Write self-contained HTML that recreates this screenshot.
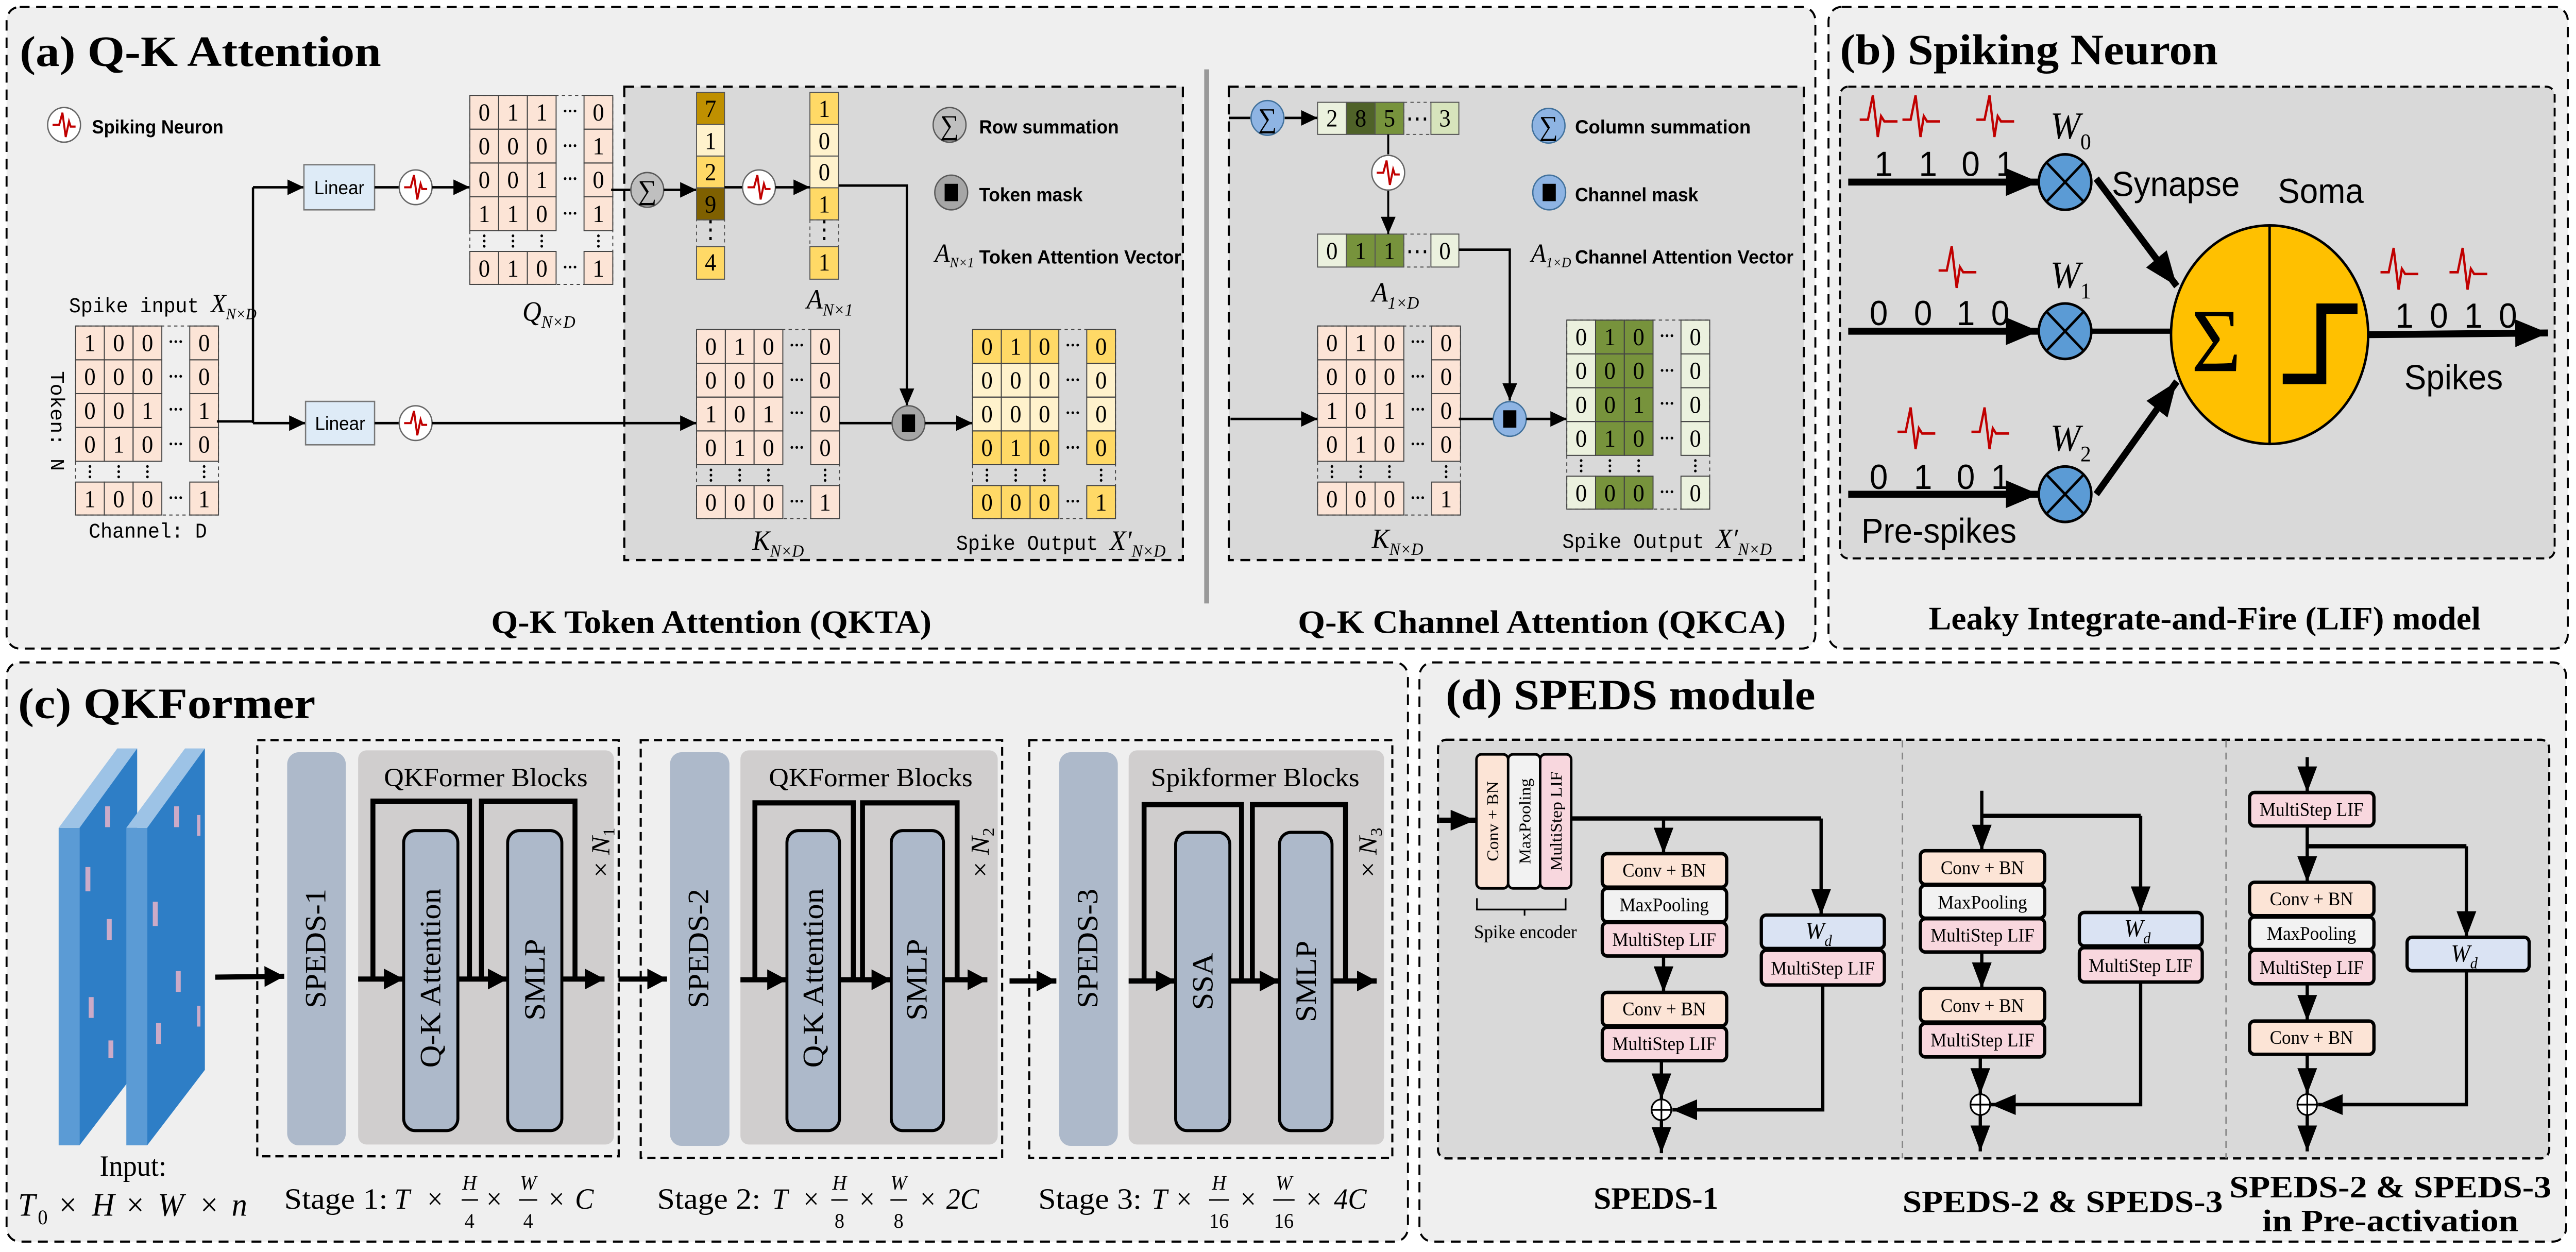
<!DOCTYPE html>
<html><head><meta charset="utf-8"><style>html,body{margin:0;padding:0;background:#fff;width:100%;height:100%;overflow:hidden}svg{display:block;width:100vw;height:100vh;position:fixed;left:0;top:0}</style></head><body>
<svg xmlns="http://www.w3.org/2000/svg" xmlns:xlink="http://www.w3.org/1999/xlink" viewBox="0 0 1568 722" preserveAspectRatio="none">
<defs>
<marker id="a1" markerWidth="10" markerHeight="9" refX="10" refY="4.5" orient="auto" markerUnits="userSpaceOnUse"><path d="M0,0 L10,4.5 L0,9z" fill="#000"/></marker>
<marker id="a2" markerWidth="20" markerHeight="16" refX="20" refY="8" orient="auto" markerUnits="userSpaceOnUse"><path d="M0,0 L20,8 L0,16z" fill="#000"/></marker>
<marker id="a3" markerWidth="12" markerHeight="12" refX="12" refY="6" orient="auto" markerUnits="userSpaceOnUse"><path d="M0,0 L12,6 L0,12z" fill="#000"/></marker>
<marker id="a4" markerWidth="15" markerHeight="12" refX="15" refY="6" orient="auto" markerUnits="userSpaceOnUse"><path d="M0,0 L15,6 L0,12z" fill="#000"/></marker>
<g id="neu"><circle cx="0" cy="0" r="10" fill="#fff" stroke="#666" stroke-width="0.8"/><path d="M-7,0 H-3 L-1,-7 L1,7 L3,-2 L4,1 H7" fill="none" stroke="#c00000" stroke-width="1.2"/></g>
<path id="spk" d="M0,14 h5 l3,-14 l3,24 l2,-12 l2,3 h8" fill="none" stroke="#c00000" stroke-width="1.4"/>
<g id="mgF" fill="#fce4d6"><rect x="0" y="0" width="52.5" height="78"/><rect x="69.5" y="0" width="17.5" height="78"/><rect x="0" y="90" width="52.5" height="19"/><rect x="69.5" y="90" width="17.5" height="19"/></g>
<g id="mgL" fill="none" stroke="#444" stroke-width="0.6">
<rect x="0" y="0" width="87" height="109" stroke-dasharray="2,2"/>
<rect x="0" y="0" width="17.5" height="19.5"/><rect x="17.5" y="0" width="17.5" height="19.5"/><rect x="35" y="0" width="17.5" height="19.5"/><rect x="69.5" y="0" width="17.5" height="19.5"/>
<rect x="0" y="19.5" width="17.5" height="19.5"/><rect x="17.5" y="19.5" width="17.5" height="19.5"/><rect x="35" y="19.5" width="17.5" height="19.5"/><rect x="69.5" y="19.5" width="17.5" height="19.5"/>
<rect x="0" y="39" width="17.5" height="19.5"/><rect x="17.5" y="39" width="17.5" height="19.5"/><rect x="35" y="39" width="17.5" height="19.5"/><rect x="69.5" y="39" width="17.5" height="19.5"/>
<rect x="0" y="58.5" width="17.5" height="19.5"/><rect x="17.5" y="58.5" width="17.5" height="19.5"/><rect x="35" y="58.5" width="17.5" height="19.5"/><rect x="69.5" y="58.5" width="17.5" height="19.5"/>
<rect x="0" y="90" width="17.5" height="19"/><rect x="17.5" y="90" width="17.5" height="19"/><rect x="35" y="90" width="17.5" height="19"/><rect x="69.5" y="90" width="17.5" height="19"/>
<g fill="#000" stroke="none"><circle cx="58" cy="9" r="0.8"/><circle cx="61" cy="9" r="0.8"/><circle cx="64" cy="9" r="0.8"/><circle cx="58" cy="29" r="0.8"/><circle cx="61" cy="29" r="0.8"/><circle cx="64" cy="29" r="0.8"/><circle cx="58" cy="48" r="0.8"/><circle cx="61" cy="48" r="0.8"/><circle cx="64" cy="48" r="0.8"/><circle cx="58" cy="68" r="0.8"/><circle cx="61" cy="68" r="0.8"/><circle cx="64" cy="68" r="0.8"/><circle cx="58" cy="99" r="0.8"/><circle cx="61" cy="99" r="0.8"/><circle cx="64" cy="99" r="0.8"/>
<circle cx="8.75" cy="81" r="0.8"/><circle cx="8.75" cy="84" r="0.8"/><circle cx="8.75" cy="87" r="0.8"/><circle cx="26.25" cy="81" r="0.8"/><circle cx="26.25" cy="84" r="0.8"/><circle cx="26.25" cy="87" r="0.8"/><circle cx="43.75" cy="81" r="0.8"/><circle cx="43.75" cy="84" r="0.8"/><circle cx="43.75" cy="87" r="0.8"/><circle cx="78.25" cy="81" r="0.8"/><circle cx="78.25" cy="84" r="0.8"/><circle cx="78.25" cy="87" r="0.8"/></g>
</g>
</defs>
<style>
.d{font-family:"Liberation Serif",serif;font-size:14px;text-anchor:middle}
.ttl{font-family:"Liberation Serif",serif;font-weight:bold}
.lg{font-family:"Liberation Sans",sans-serif;font-weight:bold;font-size:11px}
.bx{stroke:#000;stroke-width:2}
.bt{font-family:"Liberation Serif",serif;font-size:11px;text-anchor:middle}
.ln{stroke:#000;fill:none}
</style>

<rect x="4" y="4" width="1101" height="370" rx="8" fill="#efefef" stroke="#000" stroke-width="1.2" stroke-dasharray="6,4"/>
<rect x="1113" y="4" width="450" height="370" rx="8" fill="#efefef" stroke="#000" stroke-width="1.2" stroke-dasharray="6,4"/>
<rect x="4" y="382" width="853" height="334" rx="8" fill="#efefef" stroke="#000" stroke-width="1.2" stroke-dasharray="6,4"/>
<rect x="864" y="382" width="698" height="334" rx="8" fill="#efefef" stroke="#000" stroke-width="1.2" stroke-dasharray="6,4"/>

<!-- ===== Panel (a) ===== -->
<text class="ttl" x="12" y="38" font-size="25" textLength="220" lengthAdjust="spacingAndGlyphs">(a)  Q-K Attention</text>
<use xlink:href="#neu" x="39" y="72"/>
<text class="lg" x="56" y="77" textLength="80" lengthAdjust="spacingAndGlyphs">Spiking Neuron</text>

<rect x="380" y="50" width="340" height="273" fill="#d9d9d9" stroke="#000" stroke-width="1.3" stroke-dasharray="6,4"/>
<rect x="748" y="50" width="350" height="273" fill="#d9d9d9" stroke="#000" stroke-width="1.3" stroke-dasharray="6,4"/>
<rect x="733" y="40" width="3" height="308" fill="#999"/>

<text x="42" y="180" font-family="Liberation Mono,monospace" font-size="12">Spike input <tspan font-family="Liberation Serif,serif" font-style="italic" font-size="15">X</tspan><tspan font-family="Liberation Serif,serif" font-style="italic" font-size="9" dy="4">N×D</tspan></text>
<g transform="translate(46,188)"><use xlink:href="#mgF"/><use xlink:href="#mgL"/>
<text class="d" x="8.75 26.25 43.75 78.25" y="14.5">1000</text><text class="d" x="8.75 26.25 43.75 78.25" y="34">0000</text><text class="d" x="8.75 26.25 43.75 78.25" y="53.5">0011</text><text class="d" x="8.75 26.25 43.75 78.25" y="73">0100</text><text class="d" x="8.75 26.25 43.75 78.25" y="104.5">1001</text></g>
<text x="31" y="214" font-family="Liberation Mono,monospace" font-size="12" transform="rotate(90 31 214)">Token: N</text>
<text x="54" y="310" font-family="Liberation Mono,monospace" font-size="12">Channel: D</text>

<path class="ln" stroke-width="1.4" d="M132,243 H154 M154,108 V244"/>
<line class="ln" stroke-width="1.4" x1="154" y1="108" x2="185" y2="108" marker-end="url(#a1)"/>
<line class="ln" stroke-width="1.4" x1="154" y1="244" x2="186" y2="244" marker-end="url(#a1)"/>
<rect x="185" y="95" width="43" height="26" fill="#deebf7" stroke="#777" stroke-width="0.8"/>
<text x="206.5" y="112" font-family="Liberation Sans,sans-serif" font-size="11" text-anchor="middle">Linear</text>
<rect x="186" y="231.5" width="42" height="25" fill="#deebf7" stroke="#777" stroke-width="0.8"/>
<text x="207" y="248" font-family="Liberation Sans,sans-serif" font-size="11" text-anchor="middle">Linear</text>
<line class="ln" stroke-width="1.4" x1="228" y1="108" x2="243" y2="108"/>
<line class="ln" stroke-width="1.4" x1="228" y1="244" x2="243" y2="244"/>
<use xlink:href="#neu" x="253" y="108"/><use xlink:href="#neu" x="253" y="244"/>
<line class="ln" stroke-width="1.4" x1="263" y1="108" x2="286" y2="108" marker-end="url(#a1)"/>
<line class="ln" stroke-width="1.4" x1="263" y1="244" x2="424" y2="244" marker-end="url(#a1)"/>

<g transform="translate(286,55)"><use xlink:href="#mgF"/><use xlink:href="#mgL"/>
<text class="d" x="8.75 26.25 43.75 78.25" y="14.5">0110</text><text class="d" x="8.75 26.25 43.75 78.25" y="34">0001</text><text class="d" x="8.75 26.25 43.75 78.25" y="53.5">0010</text><text class="d" x="8.75 26.25 43.75 78.25" y="73">1101</text><text class="d" x="8.75 26.25 43.75 78.25" y="104.5">0101</text></g>
<text x="318" y="185" font-family="Liberation Serif,serif" font-style="italic" font-size="16">Q<tspan font-size="10" dy="4">N×D</tspan></text>

<line class="ln" stroke-width="1.4" x1="372" y1="109.5" x2="384" y2="109.5"/>
<circle cx="394" cy="109.5" r="10" fill="#bfbfbf" stroke="#595959" stroke-width="0.8"/>
<text x="394" y="115" font-family="Liberation Serif,serif" font-size="16" text-anchor="middle">∑</text>
<line class="ln" stroke-width="1.4" x1="404" y1="109.5" x2="424" y2="109.5" marker-end="url(#a1)"/>
<g stroke="#555" stroke-width="0.6">
<rect x="424" y="53.3" width="17" height="18.5" fill="#bf9000"/><rect x="424" y="71.8" width="17" height="18.2" fill="#fff2cc"/><rect x="424" y="90" width="17" height="18.3" fill="#ffd966"/><rect x="424" y="108.3" width="17" height="18.5" fill="#7f6000"/><rect x="424" y="126.8" width="17" height="15.4" fill="none" stroke-dasharray="2,2"/><rect x="424" y="142.2" width="17" height="18.8" fill="#ffd966"/>
<rect x="493" y="53.3" width="17.5" height="18.5" fill="#ffd966"/><rect x="493" y="71.8" width="17.5" height="18.2" fill="#fff2cc"/><rect x="493" y="90" width="17.5" height="18.3" fill="#fff2cc"/><rect x="493" y="108.3" width="17.5" height="18.5" fill="#ffd966"/><rect x="493" y="126.8" width="17.5" height="15.4" fill="none" stroke-dasharray="2,2"/><rect x="493" y="142.2" width="17.5" height="18.8" fill="#ffd966"/>
</g>
<text class="d" x="432.5" y="67.5">7</text><text class="d" x="432.5" y="86">1</text><text class="d" x="432.5" y="104">2</text><text class="d" x="432.5" y="122.5">9</text><text class="d" x="432.5" y="137">⋮</text><text class="d" x="432.5" y="156">4</text>
<text class="d" x="501.75" y="67.5">1</text><text class="d" x="501.75" y="86">0</text><text class="d" x="501.75" y="104">0</text><text class="d" x="501.75" y="122.5">1</text><text class="d" x="501.75" y="137">⋮</text><text class="d" x="501.75" y="156">1</text>
<line class="ln" stroke-width="1.4" x1="441" y1="108" x2="452" y2="108"/>
<use xlink:href="#neu" x="462" y="108"/>
<line class="ln" stroke-width="1.4" x1="472" y1="108" x2="493" y2="108" marker-end="url(#a1)"/>
<text x="491" y="178" font-family="Liberation Serif,serif" font-style="italic" font-size="16">A<tspan font-size="10" dy="4">N×1</tspan></text>
<path class="ln" stroke-width="1.4" d="M510.5,107 H552 V234" marker-end="url(#a1)"/>

<g transform="translate(424,190)"><use xlink:href="#mgF"/><use xlink:href="#mgL"/>
<text class="d" x="8.75 26.25 43.75 78.25" y="14.5">0100</text><text class="d" x="8.75 26.25 43.75 78.25" y="34">0000</text><text class="d" x="8.75 26.25 43.75 78.25" y="53.5">1010</text><text class="d" x="8.75 26.25 43.75 78.25" y="73">0100</text><text class="d" x="8.75 26.25 43.75 78.25" y="104.5">0001</text></g>
<text x="458" y="317" font-family="Liberation Serif,serif" font-style="italic" font-size="16">K<tspan font-size="10" dy="4">N×D</tspan></text>
<line class="ln" stroke-width="1.4" x1="511" y1="244" x2="543" y2="244"/>
<circle cx="553" cy="244" r="10" fill="#a6a6a6" stroke="#595959" stroke-width="0.8"/><rect x="549" y="239" width="8" height="10" fill="#000"/>
<line class="ln" stroke-width="1.4" x1="563" y1="244" x2="592" y2="244" marker-end="url(#a1)"/>
<g transform="translate(592,190)">
<g fill="#ffd966"><rect x="0" y="0" width="52.5" height="19.5"/><rect x="69.5" y="0" width="17.5" height="19.5"/><rect x="0" y="58.5" width="52.5" height="19.5"/><rect x="69.5" y="58.5" width="17.5" height="19.5"/><rect x="0" y="90" width="52.5" height="19"/><rect x="69.5" y="90" width="17.5" height="19"/></g>
<g fill="#fff2cc"><rect x="0" y="19.5" width="52.5" height="39"/><rect x="69.5" y="19.5" width="17.5" height="39"/></g>
<use xlink:href="#mgL"/>
<text class="d" x="8.75 26.25 43.75 78.25" y="14.5">0100</text><text class="d" x="8.75 26.25 43.75 78.25" y="34">0000</text><text class="d" x="8.75 26.25 43.75 78.25" y="53.5">0000</text><text class="d" x="8.75 26.25 43.75 78.25" y="73">0100</text><text class="d" x="8.75 26.25 43.75 78.25" y="104.5">0001</text></g>
<text x="582" y="317" font-family="Liberation Mono,monospace" font-size="12">Spike Output <tspan font-family="Liberation Serif,serif" font-style="italic" font-size="16">X′</tspan><tspan font-family="Liberation Serif,serif" font-style="italic" font-size="10" dy="4">N×D</tspan></text>

<circle cx="578" cy="72" r="10" fill="#bfbfbf" stroke="#595959" stroke-width="0.8"/><text x="578" y="77.5" font-family="Liberation Serif,serif" font-size="16" text-anchor="middle">∑</text>
<text class="lg" x="596" y="77" textLength="85" lengthAdjust="spacingAndGlyphs">Row summation</text>
<circle cx="579" cy="111" r="10" fill="#a6a6a6" stroke="#595959" stroke-width="0.8"/><rect x="575" y="106" width="8" height="10" fill="#000"/>
<text class="lg" x="596" y="116" textLength="63" lengthAdjust="spacingAndGlyphs">Token mask</text>
<text x="569" y="151" font-family="Liberation Serif,serif" font-style="italic" font-size="15">A<tspan font-size="8" dy="3">N×1</tspan></text>
<text class="lg" x="596" y="152" textLength="123" lengthAdjust="spacingAndGlyphs">Token Attention Vector</text>

<line class="ln" stroke-width="1.4" x1="748" y1="68" x2="761" y2="68"/>
<circle cx="771.5" cy="68" r="10" fill="#8eb4e3" stroke="#41719c" stroke-width="0.8"/><text x="771.5" y="73.5" font-family="Liberation Serif,serif" font-size="16" text-anchor="middle">∑</text>
<line class="ln" stroke-width="1.4" x1="782" y1="68" x2="802" y2="68" marker-end="url(#a1)"/>
<g stroke="#555" stroke-width="0.6">
<rect x="802" y="59" width="17.5" height="18.5" fill="#ebf1de"/><rect x="819.5" y="59" width="17.5" height="18.5" fill="#4f6228"/><rect x="837" y="59" width="17.5" height="18.5" fill="#77933c"/><rect x="854.5" y="59" width="16.5" height="18.5" fill="none" stroke-dasharray="2,2"/><rect x="871" y="59" width="17" height="18.5" fill="#d7e4bc"/>
<rect x="802" y="135" width="17.5" height="19" fill="#ebf1de"/><rect x="819.5" y="135" width="17.5" height="19" fill="#77933c"/><rect x="837" y="135" width="17.5" height="19" fill="#77933c"/><rect x="854.5" y="135" width="16.5" height="19" fill="none" stroke-dasharray="2,2"/><rect x="871" y="135" width="17" height="19" fill="#ebf1de"/>
</g>
<text class="d" x="810.75 828.25 845.75 862.75 879.5" y="73">285⋯3</text>
<text class="d" x="810.75 828.25 845.75 862.75 879.5" y="149.5">011⋯0</text>
<line class="ln" stroke-width="1.2" x1="845" y1="77.5" x2="845" y2="89"/>
<use xlink:href="#neu" x="845" y="99.6"/>
<line class="ln" stroke-width="1.2" x1="845" y1="110" x2="845" y2="135" marker-end="url(#a1)"/>
<text x="835" y="174" font-family="Liberation Serif,serif" font-style="italic" font-size="16">A<tspan font-size="10" dy="4">1×D</tspan></text>
<path class="ln" stroke-width="1.4" d="M888,144 H919 V231" marker-end="url(#a1)"/>
<line class="ln" stroke-width="1.4" x1="749" y1="241.6" x2="802" y2="241.6" marker-end="url(#a1)"/>
<g transform="translate(802,188)"><use xlink:href="#mgF"/><use xlink:href="#mgL"/>
<text class="d" x="8.75 26.25 43.75 78.25" y="14.5">0100</text><text class="d" x="8.75 26.25 43.75 78.25" y="34">0000</text><text class="d" x="8.75 26.25 43.75 78.25" y="53.5">1010</text><text class="d" x="8.75 26.25 43.75 78.25" y="73">0100</text><text class="d" x="8.75 26.25 43.75 78.25" y="104.5">0001</text></g>
<text x="835" y="316" font-family="Liberation Serif,serif" font-style="italic" font-size="16">K<tspan font-size="10" dy="4">N×D</tspan></text>
<line class="ln" stroke-width="1.4" x1="888" y1="241.6" x2="909" y2="241.6"/>
<circle cx="919" cy="241.6" r="10" fill="#8eb4e3" stroke="#41719c" stroke-width="0.8"/><rect x="915" y="236.6" width="8" height="10" fill="#000"/>
<line class="ln" stroke-width="1.4" x1="929" y1="241.6" x2="953.7" y2="241.6" marker-end="url(#a1)"/>
<g transform="translate(953.7,184.6)">
<g fill="#ebf1de"><rect x="0" y="0" width="17.5" height="78"/><rect x="69.5" y="0" width="17.5" height="78"/><rect x="0" y="90" width="17.5" height="19"/><rect x="69.5" y="90" width="17.5" height="19"/></g>
<g fill="#77933c"><rect x="17.5" y="0" width="35" height="78"/><rect x="17.5" y="90" width="35" height="19"/></g>
<use xlink:href="#mgL"/>
<text class="d" x="8.75 26.25 43.75 78.25" y="14.5">0100</text><text class="d" x="8.75 26.25 43.75 78.25" y="34">0000</text><text class="d" x="8.75 26.25 43.75 78.25" y="53.5">0010</text><text class="d" x="8.75 26.25 43.75 78.25" y="73">0100</text><text class="d" x="8.75 26.25 43.75 78.25" y="104.5">0000</text></g>
<text x="951" y="316" font-family="Liberation Mono,monospace" font-size="12">Spike Output <tspan font-family="Liberation Serif,serif" font-style="italic" font-size="16">X′</tspan><tspan font-family="Liberation Serif,serif" font-style="italic" font-size="10" dy="4">N×D</tspan></text>
<circle cx="942.6" cy="72.5" r="10" fill="#8eb4e3" stroke="#41719c" stroke-width="0.8"/><text x="942.6" y="78" font-family="Liberation Serif,serif" font-size="16" text-anchor="middle">∑</text>
<text class="lg" x="958.7" y="77" textLength="107" lengthAdjust="spacingAndGlyphs">Column summation</text>
<circle cx="943" cy="111" r="10" fill="#8eb4e3" stroke="#41719c" stroke-width="0.8"/><rect x="939" y="106" width="8" height="10" fill="#000"/>
<text class="lg" x="958.7" y="116" textLength="75" lengthAdjust="spacingAndGlyphs">Channel mask</text>
<text x="932" y="151" font-family="Liberation Serif,serif" font-style="italic" font-size="15">A<tspan font-size="8" dy="3">1×D</tspan></text>
<text class="lg" x="958.7" y="152" textLength="133" lengthAdjust="spacingAndGlyphs">Channel Attention Vector</text>

<text class="ttl" x="299" y="365" font-size="19" textLength="268" lengthAdjust="spacingAndGlyphs">Q-K Token Attention (QKTA)</text>
<text class="ttl" x="790" y="365" font-size="19" textLength="297" lengthAdjust="spacingAndGlyphs">Q-K Channel Attention (QKCA)</text>

<!-- ===== Panel (b) ===== -->
<text class="ttl" x="1120" y="37" font-size="25" textLength="230" lengthAdjust="spacingAndGlyphs">(b) Spiking Neuron</text>
<rect x="1120" y="50" width="435" height="272" rx="5" fill="#d9d9d9" stroke="#000" stroke-width="1.2" stroke-dasharray="5,3"/>
<g font-family="Liberation Sans,sans-serif" font-size="20">
<text x="1141 1168 1194 1215" y="101.5">1101</text>
<text x="1138 1165 1191 1212" y="187.5">0010</text>
<text x="1138 1165 1191 1212" y="282">0101</text>
<text x="1458 1479 1500 1521" y="189">1010</text>
<text x="1285.5" y="113">Synapse</text>
<text x="1386.5" y="117">Soma</text>
<text x="1463.5" y="224.5">Spikes</text>
<text x="1133" y="313">Pre-spikes</text>
</g>
<use xlink:href="#spk" x="1132" y="55"/><use xlink:href="#spk" x="1158" y="55"/><use xlink:href="#spk" x="1203" y="55"/>
<use xlink:href="#spk" x="1180" y="142"/>
<use xlink:href="#spk" x="1155" y="235"/><use xlink:href="#spk" x="1200" y="235"/>
<use xlink:href="#spk" x="1449" y="143"/><use xlink:href="#spk" x="1491" y="143"/>
<line class="ln" stroke-width="4" x1="1125" y1="105" x2="1241" y2="105" marker-end="url(#a2)"/>
<line class="ln" stroke-width="4" x1="1125" y1="191" x2="1241" y2="191" marker-end="url(#a2)"/>
<line class="ln" stroke-width="4" x1="1125" y1="285" x2="1241" y2="285" marker-end="url(#a2)"/>
<g stroke="#000" stroke-width="1.5" fill="#5b9bd5">
<circle cx="1257" cy="105" r="16"/><circle cx="1257" cy="191" r="16"/><circle cx="1257" cy="285" r="16"/></g>
<g stroke="#000" stroke-width="1.5">
<path d="M1245.7,93.7 L1268.3,116.3 M1268.3,93.7 L1245.7,116.3"/>
<path d="M1245.7,179.7 L1268.3,202.3 M1268.3,179.7 L1245.7,202.3"/>
<path d="M1245.7,273.7 L1268.3,296.3 M1268.3,273.7 L1245.7,296.3"/></g>
<g font-family="Liberation Serif,serif" font-style="italic" font-size="22">
<text x="1248" y="80">W<tspan font-size="13" dy="6" font-style="normal">0</tspan></text>
<text x="1248" y="166">W<tspan font-size="13" dy="6" font-style="normal">1</tspan></text>
<text x="1248" y="260">W<tspan font-size="13" dy="6" font-style="normal">2</tspan></text></g>
<line class="ln" stroke-width="4" x1="1276" y1="103" x2="1325" y2="165" marker-end="url(#a2)"/>
<line class="ln" stroke-width="4" x1="1276" y1="285" x2="1325" y2="220" marker-end="url(#a2)"/>
<line class="ln" stroke-width="3" x1="1273" y1="191" x2="1322" y2="191"/>
<ellipse cx="1381.5" cy="193" rx="60" ry="63" fill="#ffc000" stroke="#000" stroke-width="1.5"/>
<line x1="1381.5" y1="130" x2="1381.5" y2="256" stroke="#000" stroke-width="1.5"/>
<text x="1349" y="214" font-family="Liberation Serif,serif" font-size="52" text-anchor="middle">Σ</text>
<polyline points="1389.5,218.5 1413,218.5 1413,178 1435,178" fill="none" stroke="#000" stroke-width="6"/>
<line class="ln" stroke-width="4" x1="1442" y1="193" x2="1551" y2="192" marker-end="url(#a2)"/>
<text class="ttl" x="1174" y="363" font-size="19" textLength="336" lengthAdjust="spacingAndGlyphs">Leaky Integrate-and-Fire (LIF) model</text>

<!-- ===== Panel (c) ===== -->
<text class="ttl" x="11" y="414" font-size="25" textLength="181" lengthAdjust="spacingAndGlyphs">(c)  QKFormer</text>
<g>
<polygon points="35.7,477.4 48.4,477.4 48.4,660.5 35.7,660.5" fill="#5b9bd5"/>
<polygon points="35.7,477.4 71.4,431.6 83.5,431.6 48.4,477.4" fill="#9dc3e6"/>
<polygon points="48.4,477.4 83.5,431.6 83.5,617 48.4,660.5" fill="#2e7ec6"/>
<polygon points="76.9,477.4 89.6,477.4 89.6,660.5 76.9,660.5" fill="#5b9bd5"/>
<polygon points="76.9,477.4 112.6,431.6 124.7,431.6 89.6,477.4" fill="#9dc3e6"/>
<polygon points="89.6,477.4 124.7,431.6 124.7,617 89.6,660.5" fill="#2e7ec6"/>
<g fill="#f4b6c8" opacity="0.8"><rect x="64" y="465" width="3" height="12"/><rect x="52" y="500" width="3" height="14"/><rect x="65" y="530" width="3" height="12"/><rect x="54" y="575" width="3" height="12"/><rect x="66" y="600" width="3" height="10"/><rect x="106" y="465" width="3" height="12"/><rect x="93" y="520" width="3" height="14"/><rect x="107" y="560" width="3" height="12"/><rect x="95" y="590" width="3" height="12"/><rect x="120" y="470" width="2" height="12"/><rect x="120" y="580" width="2" height="12"/></g>
</g>
<text x="81" y="678" font-family="Liberation Serif,serif" font-size="17" text-anchor="middle">Input:</text>
<g font-family="Liberation Serif,serif" font-size="19">
<text x="11" y="701" font-style="italic">T</text><text x="23" y="706" font-size="12">0</text>
<text x="36" y="701">×</text><text x="56" y="701" font-style="italic">H</text><text x="77" y="701">×</text><text x="96" y="701" font-style="italic">W</text><text x="122" y="701">×</text><text x="141" y="701" font-style="italic">n</text></g>
<line class="ln" stroke-width="3" x1="131" y1="563.5" x2="173" y2="563" marker-end="url(#a3)"/>

<g fill="none" stroke="#000" stroke-width="1.3" stroke-dasharray="5,3">
<rect x="156.6" y="426.8" width="220" height="240"/>
<rect x="390" y="426.8" width="220" height="241"/>
<rect x="626.5" y="426.8" width="221" height="241"/></g>
<g fill="#adb9ca">
<rect x="174.8" y="433.8" width="35.7" height="226.7" rx="7"/>
<rect x="407.8" y="433.8" width="36.2" height="227" rx="7"/>
<rect x="644.7" y="433.8" width="35.7" height="227" rx="7"/></g>
<g fill="#d0cece">
<rect x="218" y="432.7" width="155.7" height="227.3" rx="5"/>
<rect x="450.7" y="432.7" width="156.6" height="227.3" rx="5"/>
<rect x="687" y="432.7" width="155.5" height="227.3" rx="5"/></g>
<g fill="#adb9ca" stroke="#000" stroke-width="1.8">
<rect x="245.7" y="479" width="33" height="173" rx="7"/><rect x="309" y="479" width="33" height="173" rx="7"/>
<rect x="479" y="479" width="32" height="173" rx="7"/><rect x="542.5" y="479" width="31.8" height="173" rx="7"/>
<rect x="715.6" y="480" width="33" height="172" rx="7"/><rect x="778.8" y="480" width="32" height="172" rx="7"/></g>
<g class="ln" stroke-width="3">
<path d="M227,564 V462 H285.8 V564 M293,564 V462 H350 V564"/>
<path d="M459.5,564 V463 H519.4 V564 M525,564 V463 H582.6 V564"/>
<path d="M696.4,565 V464 H755.7 V565 M762.3,565 V464 H819 V565"/></g>
<g class="ln" stroke-width="3">
<line x1="218" y1="564.6" x2="245.7" y2="564.6" marker-end="url(#a3)"/><line x1="278.7" y1="564.6" x2="309" y2="564.6" marker-end="url(#a3)"/><line x1="342" y1="564.6" x2="368" y2="564.6" marker-end="url(#a3)"/>
<line x1="376.5" y1="564.6" x2="406" y2="564.6" marker-end="url(#a3)"/>
<line x1="450.7" y1="565" x2="479" y2="565" marker-end="url(#a3)"/><line x1="511" y1="565" x2="542.5" y2="565" marker-end="url(#a3)"/><line x1="574.3" y1="565" x2="601" y2="565" marker-end="url(#a3)"/>
<line x1="614.5" y1="565.7" x2="643" y2="565.7" marker-end="url(#a3)"/>
<line x1="687" y1="565.7" x2="715.6" y2="565.7" marker-end="url(#a3)"/><line x1="748.6" y1="565.7" x2="778.8" y2="565.7" marker-end="url(#a3)"/><line x1="810.8" y1="565.7" x2="838" y2="565.7" marker-end="url(#a3)"/></g>
<g font-family="Liberation Serif,serif" font-size="18" text-anchor="middle">
<text transform="translate(198,547) rotate(-90)">SPEDS-1</text>
<text transform="translate(431,547) rotate(-90)">SPEDS-2</text>
<text transform="translate(668,547) rotate(-90)">SPEDS-3</text>
<text transform="translate(268,564) rotate(-90)">Q-K Attention</text>
<text transform="translate(331.5,565) rotate(-90)">SMLP</text>
<text transform="translate(501,564) rotate(-90)">Q-K Attention</text>
<text transform="translate(564,565) rotate(-90)">SMLP</text>
<text transform="translate(738,566) rotate(-90)">SSA</text>
<text transform="translate(801,566) rotate(-90)">SMLP</text>
</g>
<g font-family="Liberation Serif,serif" font-size="15" text-anchor="middle">
<text x="295.7" y="453.4" textLength="124" lengthAdjust="spacingAndGlyphs">QKFormer Blocks</text>
<text x="530" y="453.4" textLength="124" lengthAdjust="spacingAndGlyphs">QKFormer Blocks</text>
<text x="764" y="453.4" textLength="127" lengthAdjust="spacingAndGlyphs">Spikformer Blocks</text></g>
<g font-family="Liberation Serif,serif" font-size="16">
<text transform="translate(371,506) rotate(-90)">× <tspan font-style="italic">N</tspan><tspan font-size="10" dy="3">1</tspan></text>
<text transform="translate(602,506) rotate(-90)">× <tspan font-style="italic">N</tspan><tspan font-size="10" dy="3">2</tspan></text>
<text transform="translate(838,506) rotate(-90)">× <tspan font-style="italic">N</tspan><tspan font-size="10" dy="3">3</tspan></text></g>
<g font-family="Liberation Serif,serif" font-size="17">
<text x="173" y="697" textLength="63" lengthAdjust="spacingAndGlyphs">Stage 1:</text>
<text x="240" y="697" font-style="italic">T</text><text x="260" y="697">×</text><text x="296" y="697">×</text><text x="334" y="697">×</text><text x="350" y="697" font-style="italic">C</text>
<text x="400" y="697" textLength="63" lengthAdjust="spacingAndGlyphs">Stage 2:</text>
<text x="470" y="697" font-style="italic">T</text><text x="489" y="697">×</text><text x="523" y="697">×</text><text x="560" y="697">×</text><text x="576" y="697" font-style="italic">2C</text>
<text x="632" y="697" textLength="63" lengthAdjust="spacingAndGlyphs">Stage 3:</text>
<text x="701" y="697" font-style="italic">T</text><text x="716" y="697">×</text><text x="755" y="697">×</text><text x="795" y="697">×</text><text x="812" y="697" font-style="italic">4C</text>
</g>
<g font-family="Liberation Serif,serif" font-size="12" text-anchor="middle">
<text x="285.8" y="686" font-style="italic">H</text><text x="285.8" y="708">4</text><text x="321.5" y="686" font-style="italic">W</text><text x="321.5" y="708">4</text>
<text x="511" y="686" font-style="italic">H</text><text x="511" y="708">8</text><text x="547" y="686" font-style="italic">W</text><text x="547" y="708">8</text>
<text x="742" y="686" font-style="italic">H</text><text x="742" y="708">16</text><text x="781.5" y="686" font-style="italic">W</text><text x="781.5" y="708">16</text></g>
<g stroke="#000" stroke-width="0.9"><line x1="281" y1="692" x2="291" y2="692"/><line x1="316" y1="692" x2="327" y2="692"/><line x1="506" y1="692" x2="516" y2="692"/><line x1="542" y1="692" x2="552" y2="692"/><line x1="736" y1="692" x2="748" y2="692"/><line x1="775" y1="692" x2="788" y2="692"/></g>

<!-- ===== Panel (d) ===== -->
<text class="ttl" x="880" y="409" font-size="25" textLength="225" lengthAdjust="spacingAndGlyphs">(d) SPEDS module</text>
<rect x="875.3" y="426.6" width="676.4" height="241.4" rx="5" fill="#d9d9d9" stroke="#000" stroke-width="1.3" stroke-dasharray="5,3"/>
<line x1="1158" y1="427" x2="1158" y2="668" stroke="#888" stroke-width="0.9" stroke-dasharray="4,3"/>
<line x1="1355" y1="427" x2="1355" y2="668" stroke="#888" stroke-width="0.9" stroke-dasharray="4,3"/>
<g stroke="#000" stroke-width="1.5">
<rect x="898.7" y="435" width="19.3" height="77.3" rx="3" fill="#fce4d6"/>
<rect x="918" y="435" width="19.5" height="77.3" rx="3" fill="#f2f2f2"/>
<rect x="937.5" y="435" width="18.9" height="77.3" rx="3" fill="#f8d7de"/></g>
<g font-family="Liberation Serif,serif" font-size="10" text-anchor="middle">
<text transform="translate(912,473.6) rotate(-90)">Conv + BN</text>
<text transform="translate(931.5,473.6) rotate(-90)">MaxPooling</text>
<text transform="translate(950.5,473.6) rotate(-90)">MultiStep LIF</text></g>
<path d="M899,518 V524.5 H953 V518 M928,524.5 V528" fill="none" stroke="#000" stroke-width="1"/>
<text x="928.5" y="541" font-family="Liberation Serif,serif" font-size="11" text-anchor="middle">Spike encoder</text>
<line class="ln" stroke-width="3" x1="876" y1="473" x2="898" y2="473" marker-end="url(#a4)"/>
<path class="ln" stroke-width="2.5" d="M956.4,472 H1108.5"/>
<line class="ln" stroke-width="2" x1="1108.5" y1="472" x2="1108.5" y2="527.7" marker-end="url(#a4)"/>
<line class="ln" stroke-width="2" x1="1012.6" y1="472" x2="1012.6" y2="492.3" marker-end="url(#a4)"/>
<g class="bx">
<rect x="975.3" y="492.3" width="75.7" height="19.3" rx="3" fill="#fce4d6"/>
<rect x="975.3" y="512.3" width="75.7" height="19.3" rx="3" fill="#f2f2f2"/>
<rect x="975.3" y="532" width="75.7" height="19.3" rx="3" fill="#f8d7de"/>
<rect x="975.3" y="572.3" width="75.7" height="19.3" rx="3" fill="#fce4d6"/>
<rect x="975.3" y="592.4" width="75.7" height="19.3" rx="3" fill="#f8d7de"/>
<rect x="1072.1" y="527.7" width="74.9" height="19.3" rx="3" fill="#dae3f3"/>
<rect x="1072.1" y="548" width="74.9" height="20" rx="3" fill="#f8d7de"/>
</g>
<line class="ln" stroke-width="2" x1="1012.6" y1="551.3" x2="1012.6" y2="572.3" marker-end="url(#a4)"/>
<line class="ln" stroke-width="2" x1="1011.3" y1="611.7" x2="1011.3" y2="634" marker-end="url(#a4)"/>
<line class="ln" stroke-width="2" x1="1011.3" y1="646" x2="1011.3" y2="665" marker-end="url(#a4)"/>
<path class="ln" stroke-width="2" d="M1109.5,568 V640 H1018" marker-end="url(#a4)"/>
<line class="ln" stroke-width="2" x1="1206.3" y1="456" x2="1206.3" y2="490.6" marker-end="url(#a4)"/>
<path class="ln" stroke-width="2.5" d="M1206.3,470.5 H1303"/>
<line class="ln" stroke-width="2" x1="1303" y1="470.5" x2="1303" y2="526.2" marker-end="url(#a4)"/>
<g class="bx">
<rect x="1168.9" y="490.6" width="75.7" height="19.4" rx="3" fill="#fce4d6"/>
<rect x="1168.9" y="510.5" width="75.7" height="19" rx="3" fill="#f2f2f2"/>
<rect x="1168.9" y="529.8" width="75.7" height="19.2" rx="3" fill="#f8d7de"/>
<rect x="1168.9" y="570" width="75.7" height="19.4" rx="3" fill="#fce4d6"/>
<rect x="1168.9" y="590.2" width="75.7" height="19.3" rx="3" fill="#f8d7de"/>
<rect x="1265.7" y="526.2" width="74.8" height="19.3" rx="3" fill="#dae3f3"/>
<rect x="1265.7" y="546.5" width="74.8" height="19.8" rx="3" fill="#f8d7de"/>
</g>
<line class="ln" stroke-width="2" x1="1206.3" y1="549" x2="1206.3" y2="570" marker-end="url(#a4)"/>
<line class="ln" stroke-width="2" x1="1205.4" y1="609.5" x2="1205.4" y2="631" marker-end="url(#a4)"/>
<line class="ln" stroke-width="2" x1="1205.4" y1="643" x2="1205.4" y2="664" marker-end="url(#a4)"/>
<path class="ln" stroke-width="2" d="M1303,566.3 V637 H1212" marker-end="url(#a4)"/>
<line class="ln" stroke-width="2" x1="1404.4" y1="436.6" x2="1404.4" y2="457" marker-end="url(#a4)"/>
<line class="ln" stroke-width="2" x1="1404.4" y1="476.3" x2="1404.4" y2="508.8" marker-end="url(#a4)"/>
<path class="ln" stroke-width="2.5" d="M1404.4,488 H1501.3"/>
<line class="ln" stroke-width="2" x1="1501.3" y1="488" x2="1501.3" y2="540.5" marker-end="url(#a4)"/>
<g class="bx">
<rect x="1369.3" y="457" width="75.7" height="19.3" rx="3" fill="#f8d7de"/>
<rect x="1369.3" y="508.8" width="75.7" height="19.3" rx="3" fill="#fce4d6"/>
<rect x="1369.3" y="528.8" width="75.7" height="18.8" rx="3" fill="#f2f2f2"/>
<rect x="1369.3" y="548" width="75.7" height="19.3" rx="3" fill="#f8d7de"/>
<rect x="1369.3" y="588.8" width="75.7" height="19.2" rx="3" fill="#fce4d6"/>
<rect x="1465.2" y="540.5" width="74.3" height="19.3" rx="3" fill="#dae3f3"/>
</g>
<line class="ln" stroke-width="2" x1="1404.4" y1="567.3" x2="1404.4" y2="588.8" marker-end="url(#a4)"/>
<line class="ln" stroke-width="2" x1="1404.4" y1="608" x2="1404.4" y2="631" marker-end="url(#a4)"/>
<line class="ln" stroke-width="2" x1="1404.4" y1="643" x2="1404.4" y2="664" marker-end="url(#a4)"/>
<path class="ln" stroke-width="2" d="M1501.3,559.8 V637 H1411" marker-end="url(#a4)"/>
<g fill="#fff" stroke="#000" stroke-width="1"><circle cx="1011.3" cy="640" r="6"/><circle cx="1205.4" cy="637" r="6"/><circle cx="1404.4" cy="637" r="6"/></g>
<g stroke="#000" stroke-width="1"><path d="M1005.3,640 H1017.3 M1011.3,634 V646"/><path d="M1199.4,637 H1211.4 M1205.4,631 V643"/><path d="M1398.4,637 H1410.4 M1404.4,631 V643"/></g>
<g class="bt">
<text x="1013" y="505.5">Conv + BN</text><text x="1013" y="525.5">MaxPooling</text><text x="1013" y="545.5">MultiStep LIF</text><text x="1013" y="585.5">Conv + BN</text><text x="1013" y="605.5">MultiStep LIF</text>
<text x="1109.5" y="562">MultiStep LIF</text>
<text x="1206.7" y="504">Conv + BN</text><text x="1206.7" y="524">MaxPooling</text><text x="1206.7" y="543">MultiStep LIF</text><text x="1206.7" y="583.5">Conv + BN</text><text x="1206.7" y="603.5">MultiStep LIF</text>
<text x="1303" y="560.5">MultiStep LIF</text>
<text x="1407" y="470.5">MultiStep LIF</text><text x="1407" y="522">Conv + BN</text><text x="1407" y="542">MaxPooling</text><text x="1407" y="561.5">MultiStep LIF</text><text x="1407" y="602">Conv + BN</text>
</g>
<g font-family="Liberation Serif,serif" font-style="italic" font-size="14" text-anchor="middle">
<text x="1107" y="541.5">W<tspan font-size="9" dy="4">d</tspan></text>
<text x="1301" y="540">W<tspan font-size="9" dy="4">d</tspan></text>
<text x="1500" y="554.5">W<tspan font-size="9" dy="4">d</tspan></text></g>
<g class="ttl" font-size="18">
<text x="970" y="697" textLength="76" lengthAdjust="spacingAndGlyphs">SPEDS-1</text>
<text x="1158" y="699" textLength="195" lengthAdjust="spacingAndGlyphs">SPEDS-2 &amp; SPEDS-3</text>
<text x="1357" y="690.5" textLength="196" lengthAdjust="spacingAndGlyphs">SPEDS-2 &amp; SPEDS-3</text>
<text x="1377" y="710" textLength="156" lengthAdjust="spacingAndGlyphs">in  Pre-activation</text></g>
</svg>
</body></html>
